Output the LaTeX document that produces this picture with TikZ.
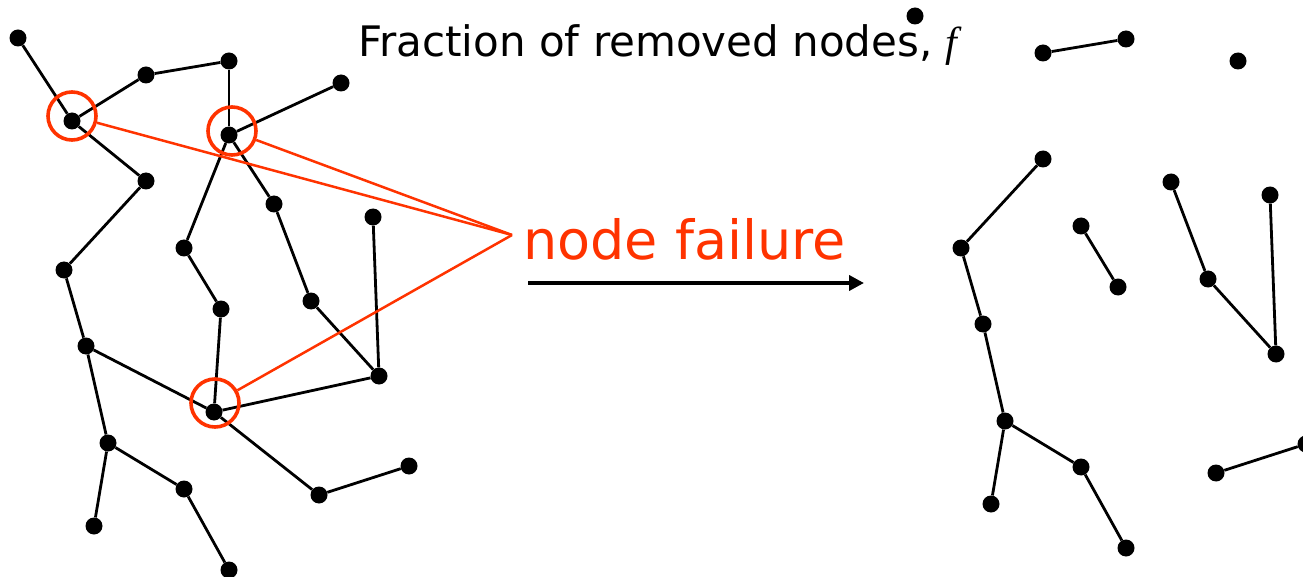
\documentclass[tikz,border=0pt]{standalone}
\usepackage{fontspec}
\setmainfont{DejaVu Sans}
\newfontfamily\timesit{Liberation Serif}
\usetikzlibrary{arrows.meta,calc}
\definecolor{failred}{RGB}{255,51,0}
\tikzset{
  dot/.style={circle,fill=black,inner sep=0pt,minimum size=17pt},
  link/.style={line width=2.8pt},
  failcirc/.style={circle,draw=failred,line width=3.6pt,inner sep=0pt,minimum size=48pt},
  failline/.style={draw=failred,line width=2.5pt},
  bigarrow/.style={line width=4pt,-{Triangle[length=15pt,width=15pt]}}
}
\begin{document}
\begin{tikzpicture}[x=1pt,y=-1pt]
\useasboundingbox (0,0) rectangle (1303,577);
\clip (0,0) rectangle (1303,577);
% left graph nodes
\foreach \n/\x/\y in {1/18/38, 2/72/121, 3/146/75, 4/229/61, 5/229/135, 6/341/83,
  7/146/181, 8/64/270, 9/274/204, 10/184/248, 11/373/217, 12/221/309, 13/311/301,
  14/86/346, 15/379/376, 16/214/412, 17/108/443, 18/184/489, 19/409/466,
  20/319/495, 21/94/526, 22/229/570}
  \node[dot] (L\n) at (\x,\y) {};
% left edges
\foreach \a/\b in {1/2, 2/3, 3/4, 4/5, 5/6, 2/7, 7/8, 5/10, 5/9, 10/12, 9/13,
  13/15, 11/15, 12/16, 8/14, 14/16, 16/15, 16/20, 20/19, 14/17, 17/18, 17/21, 18/22}
  \draw[link] (L\a) -- (L\b);
% right graph (after failure)
\foreach \n in {1,3,4,6,7,8,9,10,11,12,13,14,15,17,18,19,20,21,22}
  \node[dot] (R\n) at ($(L\n)+(897,-22)$) {};
\foreach \a/\b in {3/4, 7/8, 10/12, 9/13, 13/15, 11/15, 8/14, 14/17, 17/18,
  17/21, 18/22, 20/19}
  \draw[link] (R\a) -- (R\b);
% title
\node[anchor=base west,inner sep=0pt,font=\fontsize{42}{42}\selectfont] (title) at (358,57)
  {Fraction of removed nodes, {\timesit\itshape f}};
% failure markers
\node[failcirc] (c1) at (72,116) {};
\node[failcirc] (c2) at (232,131) {};
\node[failcirc] (c3) at (215,403) {};
\coordinate (apex) at (512,235);
\draw[failline] (c1) -- (apex);
\draw[failline] (c2) -- (apex);
\draw[failline] (c3) -- (apex);
\node[anchor=base west,inner sep=0pt,text=failred,font=\fontsize{54}{54}\selectfont] (nf) at (523,260) {node failure};
% arrow
\coordinate (a1) at (528,283);
\coordinate (a2) at (864,283);
\draw[bigarrow] (a1) -- (a2);
\end{tikzpicture}
\end{document}
